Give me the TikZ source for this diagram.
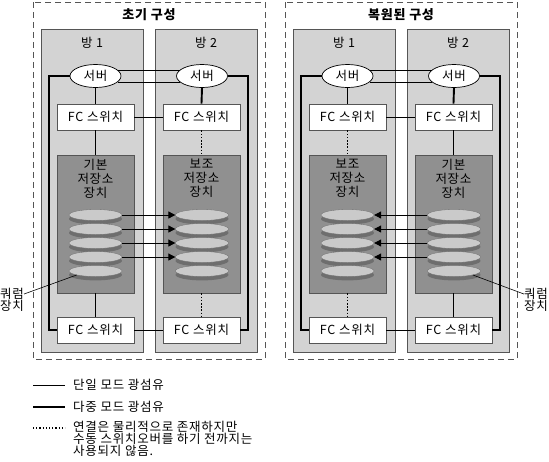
\documentclass[tikz,border=0pt]{standalone}
\usepackage{fontspec}
\setmainfont{Noto Sans CJK KR}[LetterSpace=6]
\usetikzlibrary{shapes.geometric,arrows.meta}
\definecolor{roomgray}{HTML}{D3D3D3}
\definecolor{storegray}{HTML}{909090}
\definecolor{disklight}{HTML}{CACACA}
\definecolor{diskdark}{HTML}{6E6E6E}
\definecolor{boxedge}{HTML}{555555}
\tikzset{
  txt/.style={font=\fontsize{12.5}{14}\selectfont, inner sep=0pt},
  ttl/.style={font=\fontsize{13}{15}\selectfont\bfseries, inner sep=0pt},
  panelbox/.style={draw=boxedge, line width=0.9pt, dash pattern=on 6pt off 4pt},
  roombox/.style={draw=boxedge, line width=0.6pt, fill=roomgray},
  storebox/.style={rectangle, draw=boxedge, line width=0.6pt, fill=storegray, minimum width=77pt, minimum height=138pt, inner sep=0pt},
  srv/.style={ellipse, draw=black, line width=0.7pt, fill=white, minimum width=51pt, minimum height=23pt, inner sep=0pt, font=\fontsize{12.5}{14}\selectfont},
  swbox/.style={rectangle, draw=boxedge, line width=0.7pt, fill=white, minimum width=77pt, minimum height=26pt, inner sep=0pt, font=\fontsize{12.5}{14}\selectfont},
  disk/.style={ellipse, draw=diskdark, line width=0.3pt, fill=disklight, minimum width=53pt, minimum height=11pt, inner sep=0pt},
  thinln/.style={line width=0.6pt},
  thickln/.style={line width=1.9pt},
  dotln/.style={line width=1.6pt, dash pattern=on 1.6pt off 1.6pt},
  arr/.style={line width=0.8pt, -{Triangle[length=7pt,width=7pt]}},
}
\begin{document}
\begin{tikzpicture}[x=1pt,y=-1pt]
\useasboundingbox (0,0) rectangle (549,461);

% ================= left panel =================
\draw[panelbox] (33,2) rectangle (265,359);
\node[ttl] (t1) at (149,15) {초기 구성};
\draw[roombox] (41,29) rectangle (143,352);
\draw[roombox] (155,29) rectangle (257,352);
\node[txt] (r11) at (92,43) {방 1};
\node[txt] (r12) at (206,43) {방 2};

\node[storebox] (Ast1) at (95.5,224) {};
\node[storebox] (Ast2) at (201.5,224) {};
\node[txt, align=center, anchor=north] (Ast1t) at (95.5,159) {기본\\저장소\\장치};
\node[txt, align=center, anchor=north] (Ast2t) at (201.5,159) {보조\\저장소\\장치};

\node[srv] (As1) at (95.5,76) {서버};
\node[srv] (As2) at (202,76) {서버};
\node[swbox] (Aw1) at (95.5,117) {FC 스위치};
\node[swbox] (Aw2) at (201.5,117) {FC 스위치};
\node[swbox] (Ab1) at (95.5,330) {FC 스위치};
\node[swbox] (Ab2) at (201.5,330) {FC 스위치};

\coordinate (Ac1) at (49,76);
\coordinate (Ac2) at (49,330);
\coordinate (Ac3) at (248,76);
\coordinate (Ac4) at (248,330);
\draw[thickln] (As1.west) -- (Ac1) -- (Ac2) -- (Ab1.west);
\draw[thickln] (As2.east) -- (Ac3) -- (Ac4) -- (Ab2.east);
\draw[thickln] (As1.south) -- (Aw1.north);
\draw[thickln] (As2.south) -- (Aw2.north);
\draw[thinln] (As1.15) -- (As2.165);
\draw[thinln] (As1.-15) -- (As2.-165);
\draw[thinln] (Aw1.east) -- (Aw2.west);
\draw[thinln] (Ab1.east) -- (Ab2.west);
\draw[thinln] (Aw1.south) -- (Ast1.north);
\draw[thinln] (Ast1.south) -- (Ab1.north);
\draw[dotln] (Aw2.south) -- (Ast2.north);
\draw[dotln] (Ast2.south) -- (Ab2.north);

\foreach \i/\y in {1/215,2/229,3/243,4/257,5/271}{
  \fill[diskdark] (95.5,\y+3.8) ellipse [x radius=26.5pt, y radius=5.6pt];
  \node[disk] (Ad1\i) at (95.5,\y) {};
  \fill[diskdark] (202,\y+3.8) ellipse [x radius=26.5pt, y radius=5.6pt];
  \node[disk] (Ad2\i) at (202,\y) {};
}
\foreach \i in {1,2,3,4}{
  \draw[arr] (Ad1\i.east) -- (Ad2\i.west);
}
\node[txt] (Aq1) at (12,294) {쿼럼};
\node[txt] (Aq2) at (12,306) {장치};
\draw[thinln] (Aq1.east) -- (Ad15.south west);

% ================= right panel =================
\draw[panelbox] (285,2) rectangle (517,359);
\node[ttl] (t2) at (401,15) {복원된 구성};
\draw[roombox] (293,29) rectangle (395,352);
\draw[roombox] (407,29) rectangle (509,352);
\node[txt] (r21) at (344,43) {방 1};
\node[txt] (r22) at (458,43) {방 2};

\node[storebox] (Bst1) at (347.5,224) {};
\node[storebox] (Bst2) at (453.5,224) {};
\node[txt, align=center, anchor=north] (Bst1t) at (347.5,159) {보조\\저장소\\장치};
\node[txt, align=center, anchor=north] (Bst2t) at (453.5,159) {기본\\저장소\\장치};

\node[srv] (Bs1) at (347.5,76) {서버};
\node[srv] (Bs2) at (454,76) {서버};
\node[swbox] (Bw1) at (347.5,117) {FC 스위치};
\node[swbox] (Bw2) at (453.5,117) {FC 스위치};
\node[swbox] (Bb1) at (347.5,330) {FC 스위치};
\node[swbox] (Bb2) at (453.5,330) {FC 스위치};

\coordinate (Bc1) at (301,76);
\coordinate (Bc2) at (301,330);
\coordinate (Bc3) at (500,76);
\coordinate (Bc4) at (500,330);
\draw[thickln] (Bs1.west) -- (Bc1) -- (Bc2) -- (Bb1.west);
\draw[thickln] (Bs2.east) -- (Bc3) -- (Bc4) -- (Bb2.east);
\draw[thickln] (Bs1.south) -- (Bw1.north);
\draw[thickln] (Bs2.south) -- (Bw2.north);
\draw[thinln] (Bs1.15) -- (Bs2.165);
\draw[thinln] (Bs1.-15) -- (Bs2.-165);
\draw[thinln] (Bw1.east) -- (Bw2.west);
\draw[thinln] (Bb1.east) -- (Bb2.west);
\draw[dotln] (Bw1.south) -- (Bst1.north);
\draw[dotln] (Bst1.south) -- (Bb1.north);
\draw[thinln] (Bw2.south) -- (Bst2.north);
\draw[thinln] (Bst2.south) -- (Bb2.north);

\foreach \i/\y in {1/215,2/229,3/243,4/257,5/271}{
  \fill[diskdark] (347.5,\y+3.8) ellipse [x radius=26.5pt, y radius=5.6pt];
  \node[disk] (Bd1\i) at (347.5,\y) {};
  \fill[diskdark] (454,\y+3.8) ellipse [x radius=26.5pt, y radius=5.6pt];
  \node[disk] (Bd2\i) at (454,\y) {};
}
\foreach \i in {1,2,3,4}{
  \draw[arr] (Bd2\i.west) -- (Bd1\i.east);
}
\node[txt] (Bq1) at (536,294) {쿼럼};
\node[txt] (Bq2) at (536,306) {장치};
\draw[thinln] (Bq1.west) -- (Bd25.south east);

% ================= legend =================
\coordinate (L1a) at (33,385);
\coordinate (L1b) at (65,385);
\coordinate (L2a) at (33,407);
\coordinate (L2b) at (65,407);
\coordinate (L3a) at (33,428);
\coordinate (L3b) at (65,428);
\draw[thinln] (L1a) -- (L1b);
\draw[thickln] (L2a) -- (L2b);
\draw[dotln, line width=1.2pt, dash pattern=on 1.2pt off 2pt] (L3a) -- (L3b);
\node[txt, anchor=west] (L1t) at (73,385) {단일 모드 광섬유};
\node[txt, anchor=west] (L2t) at (73,407) {다중 모드 광섬유};
\node[txt, anchor=north west, align=left, font=\fontsize{12.5}{11.8}\selectfont] (L3t) at (73,421) {연결은 물리적으로 존재하지만\\수동 스위치오버를 하기 전까지는\\사용되지 않음.};
\end{tikzpicture}
\end{document}
